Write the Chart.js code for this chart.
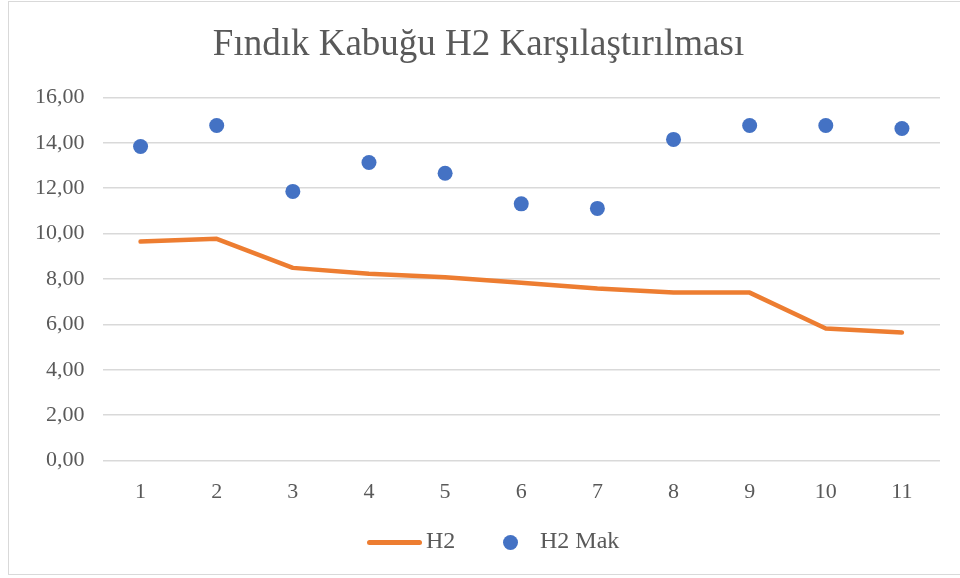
<!doctype html>
<html><head><meta charset="utf-8"><title>Fındık Kabuğu H2 Karşılaştırılması</title>
<script src="https://cdn.jsdelivr.net/npm/chart.js"></script>
<style>
  body { margin: 0; background: #fff; }
  #wrap { position: relative; width: 960px; height: 578px; overflow: hidden; }
  #frame { position: absolute; left: 8px; top: 1px; width: 970px; height: 574px; border: 1.5px solid #d9d9d9; box-sizing: border-box; }
  #c { position: absolute; left: 0; top: 0; }
  #legend { position: absolute; top: 526px; left: 0; width: 960px; font: 24px "Liberation Serif", serif; color: #595959; }
  .item { position: absolute; top: 0; line-height: 28px; }
  .line { display: inline-block; width: 55px; height: 5px; border-radius: 3px; background: #ed7d31; vertical-align: middle; margin-right: 4px; }
  .dot { display: inline-block; width: 15px; height: 15px; border-radius: 50%; background: #4472c4; vertical-align: middle; margin-right: 22px; }
</style>
</head>
<body>
<div id="wrap">
  <div id="frame"></div>
  <canvas id="c" width="960" height="578"></canvas>
  <div id="legend">
    <span class="item" style="left:367px"><span class="line"></span>H2</span>
    <span class="item" style="left:503px"><span class="dot"></span>H2 Mak</span>
  </div>
</div>
<script>
// kategoriler ve seriler
const labels = ['1', '2', '3', '4', '5', '6', '7', '8', '9', '10', '11']
const h2 = [9.65, 9.77, 8.49, 8.23, 8.08, 7.84, 7.58, 7.40, 7.40, 5.82, 5.64]
const h2Mak = [13.84, 14.76, 11.86, 13.13, 12.66, 11.31, 11.11, 14.15, 14.76, 14.76, 14.63]

const grey = '#595959'
const serif = '"Liberation Serif", "Times New Roman", serif'

const ctx = document.getElementById('c').getContext('2d')
new Chart(ctx, {
  type: 'line',
  data: {
    labels,
    datasets: [
      {
        label: 'H2',
        data: h2,
        borderColor: '#ed7d31',
        backgroundColor: '#ed7d31',
        borderWidth: 4.5,
        borderCapStyle: 'round',
        borderJoinStyle: 'round',
        pointRadius: 0,
        tension: 0,
        order: 2
      },
      {
        label: 'H2 Mak',
        data: h2Mak,
        showLine: false,
        pointRadius: 7.5,
        pointBackgroundColor: '#4472c4',
        pointBorderColor: '#4472c4',
        pointBorderWidth: 0,
        order: 1
      }
    ]
  },
  options: {
    responsive: false,
    animation: false,
    layout: { padding: { left: 17, right: 20, top: 0, bottom: 63 } },
    plugins: {
      legend: { display: false },
      tooltip: { enabled: false },
      title: {
        display: true,
        text: 'Fındık Kabuğu H2 Karşılaştırılması',
        color: grey,
        font: { family: serif, size: 37, weight: 'normal' },
        padding: { top: 23, bottom: 30 }
      }
    },
    scales: {
      x: {
        offset: true,
        grid: { display: false },
        border: { display: false },
        ticks: { color: grey, font: { family: serif, size: 22 }, padding: 10, maxRotation: 0 }
      },
      y: {
        min: 0,
        max: 16,
        grid: { color: '#d9d9d9', lineWidth: 1.5, drawTicks: false },
        border: { display: false },
        ticks: {
          stepSize: 2,
          color: grey,
          padding: 18,
          font: { family: serif, size: 22 },
          callback: (v) => v.toFixed(2).replace('.', ',')
        }
      }
    }
  }
})
</script>
</body></html>
